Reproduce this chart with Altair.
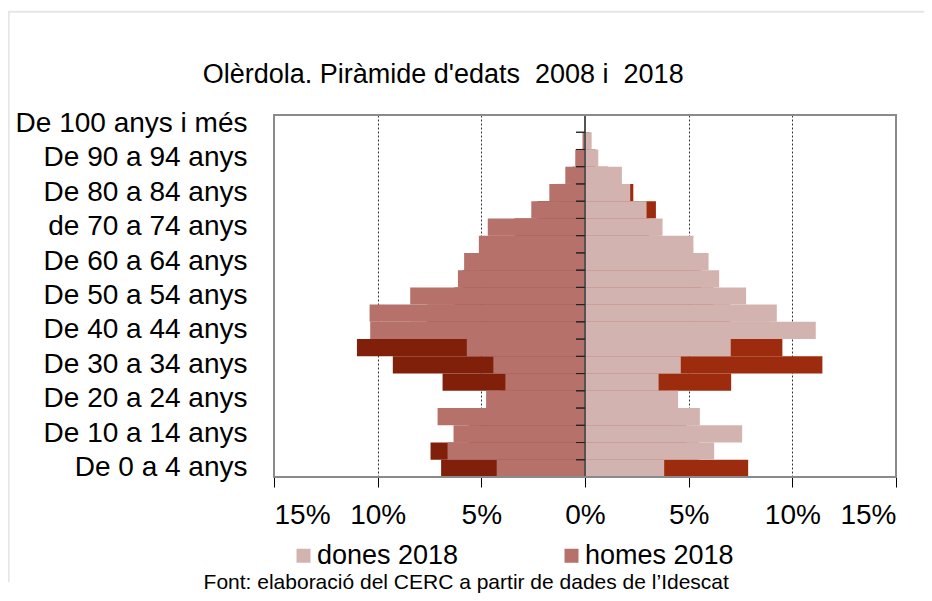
import altair as alt
import pandas as pd

FONT = "Liberation Sans"

ages = [
    "De 0 a 4 anys", "De 5 a 9 anys", "De 10 a 14 anys", "De 15 a 19 anys",
    "De 20 a 24 anys", "De 25 a 29 anys", "De 30 a 34 anys", "De 35 a 39 anys",
    "De 40 a 44 anys", "De 45 a 49 anys", "De 50 a 54 anys", "De 55 a 59 anys",
    "De 60 a 64 anys", "De 65 a 69 anys", "de 70 a 74 anys", "De 75 a 79 anys",
    "De 80 a 84 anys", "De 85 a 89 anys", "De 90 a 94 anys", "De 95 a 99 anys",
    "De 100 anys i més",
]
shown_labels = ages[::2]

# percentages (%)
homes_2018 = [4.26, 6.63, 6.34, 7.11, 4.77, 3.84, 4.42, 5.70, 10.36, 10.39, 8.43,
              6.13, 5.83, 5.12, 4.69, 2.59, 1.72, 0.95, 0.47, 0.12, 0.0]
dones_2018 = [3.82, 6.23, 7.58, 5.54, 4.49, 3.55, 4.62, 7.03, 11.13, 9.25, 7.77,
              6.47, 5.96, 5.23, 3.74, 2.97, 2.18, 1.78, 0.64, 0.32, 0.0]
homes_2008 = [6.94, 7.45, 5.60, 5.20, 4.10, 6.87, 9.27, 11.00, 8.40, 7.60, 6.30,
              5.90, 5.10, 4.60, 3.40, 2.30, 1.40, 0.60, 0.30, 0.05, 0.0]
dones_2008 = [7.87, 5.50, 4.90, 4.30, 4.00, 7.05, 11.45, 9.52, 8.90, 7.00, 6.20,
              5.60, 5.20, 3.60, 3.10, 3.42, 2.33, 1.10, 0.50, 0.20, 0.0]

series_2018 = ["dones 2018", "homes 2018"]
colors_2018 = ["#D3B3AF", "#B6716A"]
series_2008 = ["homes 2008", "dones 2008"]
colors_2008 = ["#80200A", "#9D2B0D"]

title_text = "Olèrdola. Piràmide d'edats\u00a0 2008 i\u00a0 2018"
source_text = "Font: elaboració del CERC a partir de dades de l\u2019Idescat"

rows = []
for i, a in enumerate(ages):
    rows.append({"age": a, "serie": "homes 2018", "value": -homes_2018[i]})
    rows.append({"age": a, "serie": "dones 2018", "value": dones_2018[i]})
    rows.append({"age": a, "serie": "homes 2008", "value": -homes_2008[i]})
    rows.append({"age": a, "serie": "dones 2008", "value": dones_2008[i]})
df = pd.DataFrame(rows)
ages_df = pd.DataFrame({"age": ages})

order = ages[::-1]
yscale = alt.Scale(paddingInner=0, paddingOuter=0)
xscale = alt.Scale(domain=[-15, 15], nice=False, zero=False)

x_axis = alt.Axis(
    values=[-15, -10, -5, 0, 5, 10, 15],
    labelExpr="abs(datum.value) + '%'",
    tickSize=10, tickColor="#000000", tickWidth=1,
    domain=False,
    grid=True, gridDash=[2, 2], gridColor="#333333", gridWidth=1,
    labelFontSize=28, labelFont=FONT, labelColor="#000000", labelPadding=14,
    title=source_text,
    titleFontSize=21, titleFont=FONT, titleFontWeight="normal", titleColor="#000000",
    titleX=191.7, titleY=111, titleAlign="center", titleBaseline="alphabetic",
)
y_axis = alt.Axis(
    values=shown_labels, ticks=False, domain=False, grid=False,
    labelPadding=27, labelFontSize=28, labelFont=FONT, labelColor="#000000",
    labelLimit=400, title=None,
)

X = alt.X("value:Q", scale=xscale, axis=x_axis)
Y = alt.Y("age:N", sort=order, scale=yscale, axis=y_axis)
X0 = alt.XDatum(0, type="quantitative", scale=xscale, axis=x_axis)

base = alt.Chart(df)

bars_2008 = base.transform_filter(
    alt.FieldOneOfPredicate(field="serie", oneOf=series_2008)
).mark_bar().encode(
    x=X, y=Y,
    color=alt.Color("serie:N", scale=alt.Scale(domain=series_2008, range=colors_2008), legend=None),
)

bars_2018 = base.transform_filter(
    alt.FieldOneOfPredicate(field="serie", oneOf=series_2018)
).mark_bar().encode(
    x=X, y=Y,
    color=alt.Color(
        "serie:N",
        scale=alt.Scale(domain=series_2018, range=colors_2018),
        legend=alt.Legend(
            orient="none", legendX=13, legendY=427, direction="horizontal",
            title=None, symbolType="square", symbolSize=196, symbolStrokeWidth=0,
            symbolOffset=3,
            labelFontSize=27, labelFont=FONT, labelColor="#000000", labelOffset=0,
            columnPadding=96, padding=0, labelLimit=400,
        ),
    ),
)

center_line = alt.Chart(ages_df).mark_rule(color="#555555", strokeWidth=1.5).encode(
    x=X0,
)

ticks_top = alt.Chart(ages_df).mark_rule(color="#222222", strokeWidth=1, xOffset=-9, x2Offset=0).encode(
    x=X0,
    x2=alt.X2Datum(0),
    y=alt.Y("age:N", sort=order, scale=yscale, axis=y_axis, bandPosition=0),
)
ticks_bottom = alt.Chart(ages_df).mark_rule(color="#222222", strokeWidth=1, xOffset=-9, x2Offset=0).encode(
    x=X0,
    x2=alt.X2Datum(0),
    y=alt.Y("age:N", sort=order, scale=yscale, axis=y_axis, bandPosition=1),
)

plot_border = alt.Chart(ages_df.head(1)).mark_rect(
    fillOpacity=0, stroke="#8A8A8A", strokeWidth=2
).encode(
    x=alt.XDatum(-15, type="quantitative", scale=xscale, axis=x_axis),
    x2=alt.X2Datum(15),
)

frame_left = alt.Chart(ages_df.head(1)).mark_rule(color="#E6E6E6", strokeWidth=2).encode(
    x=alt.value(-265.3), y=alt.value(-103.5), y2=alt.value(467),
)
frame_top = alt.Chart(ages_df.head(1)).mark_rule(color="#E6E6E6", strokeWidth=2).encode(
    x=alt.value(-266.3), x2=alt.value(660), y=alt.value(-103.3),
)
title = alt.Chart(ages_df.head(1)).mark_text(
    align="left", baseline="alphabetic", fontSize=27, font=FONT, color="#000000"
).encode(x=alt.value(-71.3), y=alt.value(-32), text=alt.value(title_text))

chart = alt.layer(
    frame_left, frame_top, title, bars_2008, bars_2018, center_line,
    ticks_top, ticks_bottom, plot_border
).resolve_scale(color="independent").properties(
    width=622, height=362,
    autosize=alt.AutoSizeParams(type="none"),
    padding={"left": 266, "top": 107, "right": 28, "bottom": 116},
).configure_view(stroke="#8A8A8A", strokeWidth=2).configure(background="white")

chart.save("out.html", embed_options={"renderer": "svg", "actions": False})
